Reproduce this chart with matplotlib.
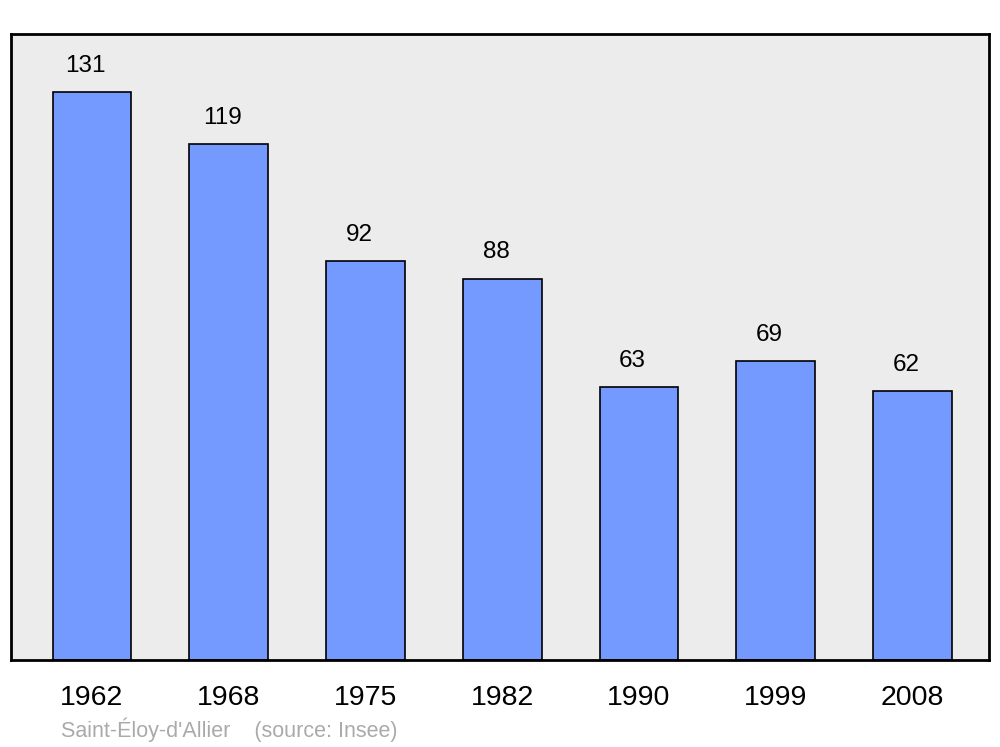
import matplotlib.pyplot as plt

years = ["1962", "1968", "1975", "1982", "1990", "1999", "2008"]
population = [131, 119, 92, 88, 63, 69, 62]

plt.rcParams['font.family'] = ['Liberation Sans', 'DejaVu Sans']

fig = plt.figure(figsize=(10, 7.47), dpi=100)
ax = fig.add_axes([0.011, 1 - 660 / 747, 0.978, 626 / 747])
ax.set_facecolor("#ececec")

x = list(range(len(years)))
ax.bar(x, population, width=0.575, color="#7499ff", edgecolor="black", linewidth=1.2, zorder=2)

for xi, v in zip(x, population):
    ax.annotate(str(v), (xi, v), xytext=(-4.5, 11), textcoords="offset points",
                ha="center", va="bottom", fontsize=17.5)

ax.set_xlim(-0.592, 6.56)
ax.set_ylim(0, 144.4)
ax.set_xticks(x)
ax.set_xticklabels(years, fontsize=20.5)
ax.tick_params(axis="x", length=0, pad=18)
ax.set_yticks([])
for s in ax.spines.values():
    s.set_linewidth(2)

fig.text(0.061, 1 - 730 / 747, "Saint-Éloy-d'Allier    (source: Insee)", color="#aaaaaa",
         fontsize=15.5, va="center", ha="left")

plt.savefig("out.png")
